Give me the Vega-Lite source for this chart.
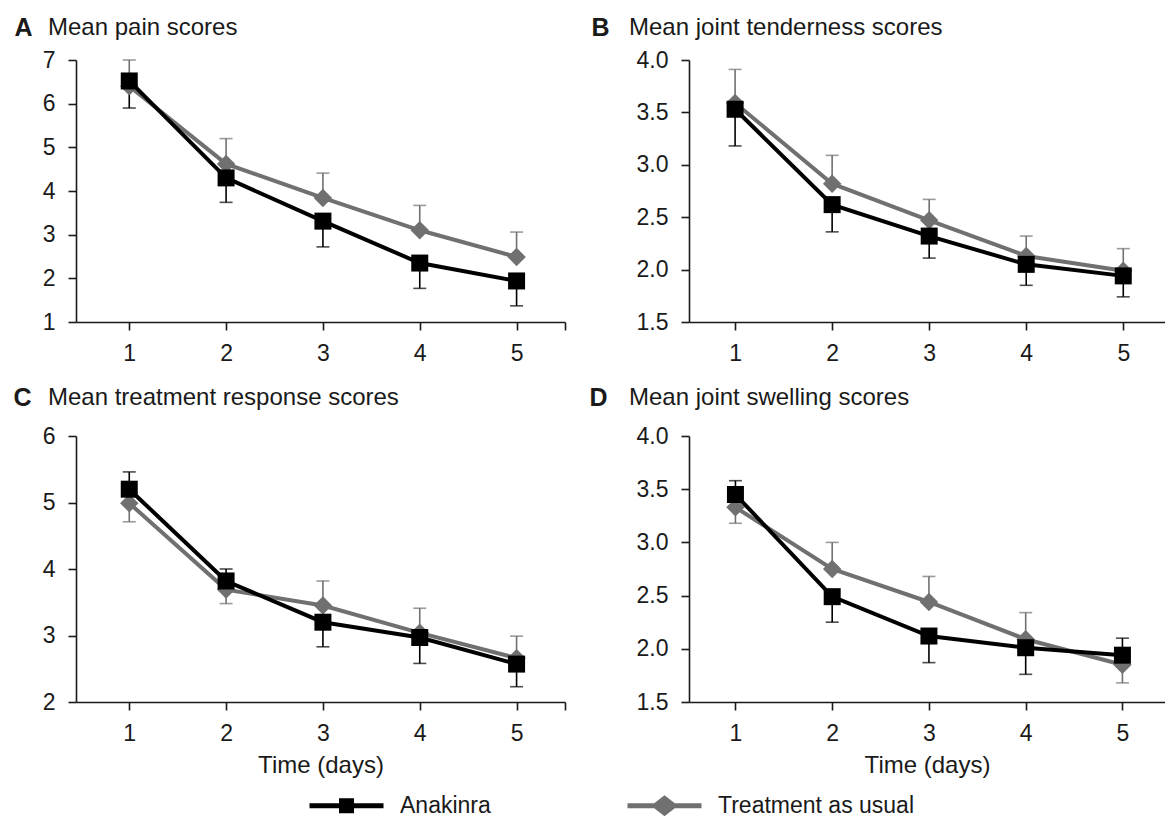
{
  "$schema": "https://vega.github.io/schema/vega-lite/v6.json",
  "autosize": {"type": "pad"},
  "padding": {"left": 12, "top": 15, "right": 0, "bottom": 0},
  "background": "white",
  "config": {
    "font": "Liberation Sans",
    "view": {"stroke": null},
    "axis": {"grid": false, "domainColor": "#1a1a1a", "domainWidth": 1.6, "tickColor": "#1a1a1a", "tickWidth": 1.6, "tickSize": 8, "labelFontSize": 23, "labelColor": "#1a1a1a", "labelFont": "Liberation Sans", "titleFont": "Liberation Sans", "titleColor": "#1a1a1a"},
    "axisY": {"labelPadding": 13},
    "axisX": {"labelPadding": 12},
    "title": {"font": "Liberation Sans", "fontSize": 24, "fontWeight": "normal", "color": "#1a1a1a", "anchor": "start", "frame": "group", "offset": -25}
  },
  "datasets": {
    "scores": [
      {"panel": "A", "series": "Treatment as usual", "day": 1, "mean": 6.40, "err": 7.00},
      {"panel": "A", "series": "Treatment as usual", "day": 2, "mean": 4.62, "err": 5.20},
      {"panel": "A", "series": "Treatment as usual", "day": 3, "mean": 3.84, "err": 4.41},
      {"panel": "A", "series": "Treatment as usual", "day": 4, "mean": 3.10, "err": 3.67},
      {"panel": "A", "series": "Treatment as usual", "day": 5, "mean": 2.49, "err": 3.06},
      {"panel": "B", "series": "Treatment as usual", "day": 1, "mean": 3.59, "err": 3.91},
      {"panel": "B", "series": "Treatment as usual", "day": 2, "mean": 2.82, "err": 3.09},
      {"panel": "B", "series": "Treatment as usual", "day": 3, "mean": 2.47, "err": 2.67},
      {"panel": "B", "series": "Treatment as usual", "day": 4, "mean": 2.13, "err": 2.32},
      {"panel": "B", "series": "Treatment as usual", "day": 5, "mean": 1.99, "err": 2.20},
      {"panel": "C", "series": "Treatment as usual", "day": 1, "mean": 4.99, "err": 4.71},
      {"panel": "C", "series": "Treatment as usual", "day": 2, "mean": 3.69, "err": 3.48},
      {"panel": "C", "series": "Treatment as usual", "day": 3, "mean": 3.45, "err": 3.82},
      {"panel": "C", "series": "Treatment as usual", "day": 4, "mean": 3.04, "err": 3.41},
      {"panel": "C", "series": "Treatment as usual", "day": 5, "mean": 2.66, "err": 2.99},
      {"panel": "D", "series": "Treatment as usual", "day": 1, "mean": 3.33, "err": 3.18},
      {"panel": "D", "series": "Treatment as usual", "day": 2, "mean": 2.75, "err": 3.00},
      {"panel": "D", "series": "Treatment as usual", "day": 3, "mean": 2.44, "err": 2.68},
      {"panel": "D", "series": "Treatment as usual", "day": 4, "mean": 2.09, "err": 2.34},
      {"panel": "D", "series": "Treatment as usual", "day": 5, "mean": 1.85, "err": 1.68},
      {"panel": "A", "series": "Anakinra", "day": 1, "mean": 6.52, "err": 5.90},
      {"panel": "A", "series": "Anakinra", "day": 2, "mean": 4.30, "err": 3.74},
      {"panel": "A", "series": "Anakinra", "day": 3, "mean": 3.31, "err": 2.72},
      {"panel": "A", "series": "Anakinra", "day": 4, "mean": 2.35, "err": 1.77},
      {"panel": "A", "series": "Anakinra", "day": 5, "mean": 1.94, "err": 1.37},
      {"panel": "B", "series": "Anakinra", "day": 1, "mean": 3.53, "err": 3.18},
      {"panel": "B", "series": "Anakinra", "day": 2, "mean": 2.62, "err": 2.36},
      {"panel": "B", "series": "Anakinra", "day": 3, "mean": 2.32, "err": 2.11},
      {"panel": "B", "series": "Anakinra", "day": 4, "mean": 2.05, "err": 1.85},
      {"panel": "B", "series": "Anakinra", "day": 5, "mean": 1.94, "err": 1.74},
      {"panel": "C", "series": "Anakinra", "day": 1, "mean": 5.20, "err": 5.46},
      {"panel": "C", "series": "Anakinra", "day": 2, "mean": 3.82, "err": 4.00},
      {"panel": "C", "series": "Anakinra", "day": 3, "mean": 3.20, "err": 2.83},
      {"panel": "C", "series": "Anakinra", "day": 4, "mean": 2.97, "err": 2.58},
      {"panel": "C", "series": "Anakinra", "day": 5, "mean": 2.57, "err": 2.23},
      {"panel": "D", "series": "Anakinra", "day": 1, "mean": 3.45, "err": 3.58},
      {"panel": "D", "series": "Anakinra", "day": 2, "mean": 2.49, "err": 2.25},
      {"panel": "D", "series": "Anakinra", "day": 3, "mean": 2.12, "err": 1.87},
      {"panel": "D", "series": "Anakinra", "day": 4, "mean": 2.01, "err": 1.76},
      {"panel": "D", "series": "Anakinra", "day": 5, "mean": 1.94, "err": 2.10}
    ]
  },
  "data": {"name": "scores"},
  "spacing": 20,
  "vconcat": [
    {
      "bounds": "flush",
      "spacing": 124,
      "hconcat": [
        {
          "width": 489, "height": 262,
          "title": {"text": "Mean pain scores", "dx": -28},
          "transform": [{"filter": "datum.panel === 'A'"}],
          "encoding": {
            "x": {"field": "day", "type": "quantitative", "scale": {"domain": [0.45, 5.5], "nice": false, "zero": false}, "axis": {"values": [1, 2, 3, 4, 5, 5.5], "labelExpr": "datum.value > 5 ? '' : datum.label", "format": "d", "title": null}}
          },
          "layer": [
            {"mark": {"type": "rule", "strokeWidth": 1.6},
             "encoding": {"y": {"field": "mean", "type": "quantitative", "scale": {"domain": [1, 7], "nice": false, "zero": false}, "axis": {"values": [1, 2, 3, 4, 5, 6, 7], "format": "d", "title": "A", "titleAngle": 0, "titleFontSize": 25, "titleFontWeight": "bold", "titleX": -53, "titleY": -25, "titleAlign": "center", "titleBaseline": "alphabetic"}}, "y2": {"field": "err"},
                          "color": {"field": "series", "type": "nominal", "scale": {"domain": ["Anakinra", "Treatment as usual"], "range": ["#000000", "#707070"]},
                                    "legend": {"orient": "none", "legendX": 259, "legendY": 734, "direction": "horizontal", "title": null,
                                               "labelFontSize": 23, "labelFont": "Liberation Sans", "labelColor": "#1a1a1a", "labelLimit": 500,
                                               "symbolSize": 400, "labelOffset": 42, "columnPadding": 136, "symbolStrokeWidth": 0,
                                               "encoding": {"symbols": {
                                                 "shape": {"condition": {"test": "datum.value === 'Anakinra'", "value": "M-3.7,-0.25H3.7V0.25H-3.7Z M-0.75,-0.75H0.75V0.75H-0.75Z"}, "value": "M-3.7,-0.25H3.7V0.25H-3.7Z M0,-1.05L1.35,0L0,1.05L-1.35,0Z"},
                                                 "fill": {"condition": {"test": "datum.value === 'Anakinra'", "value": "#000000"}, "value": "#707070"},
                                                 "stroke": {"value": "transparent"},
                                                 "opacity": {"value": 1}}}}}}},
            {"mark": {"type": "tick", "orient": "horizontal", "size": 13, "thickness": 1.6},
             "encoding": {"y": {"field": "err", "type": "quantitative"}, "color": {"field": "series", "type": "nominal"}}},
            {"mark": {"type": "line", "strokeWidth": 4},
             "encoding": {"y": {"field": "mean", "type": "quantitative"}, "color": {"field": "series", "type": "nominal"}}},
            {"transform": [{"filter": "datum.series === 'Treatment as usual'"}],
             "mark": {"type": "point", "filled": true, "opacity": 1, "shape": "diamond", "size": 340, "color": "#707070"},
             "encoding": {"y": {"field": "mean", "type": "quantitative"}}},
            {"transform": [{"filter": "datum.series === 'Anakinra'"}],
             "mark": {"type": "point", "filled": true, "opacity": 1, "shape": "square", "size": 289, "color": "#000000"},
             "encoding": {"y": {"field": "mean", "type": "quantitative"}}}
          ]
        },
        {
          "width": 476, "height": 262,
          "title": {"text": "Mean joint tenderness scores", "dx": -60},
          "transform": [{"filter": "datum.panel === 'B'"}],
          "encoding": {
            "x": {"field": "day", "type": "quantitative", "scale": {"domain": [0.525, 5.43], "nice": false, "zero": false}, "axis": {"values": [1, 2, 3, 4, 5], "format": "d", "title": null}}
          },
          "layer": [
            {"mark": {"type": "rule", "strokeWidth": 1.6},
             "encoding": {"y": {"field": "mean", "type": "quantitative", "scale": {"domain": [1.5, 4], "nice": false, "zero": false}, "axis": {"values": [1.5, 2, 2.5, 3, 3.5, 4], "format": ".1f", "title": "B", "titleAngle": 0, "titleFontSize": 25, "titleFontWeight": "bold", "titleX": -89, "titleY": -25, "titleAlign": "center", "titleBaseline": "alphabetic"}}, "y2": {"field": "err"},
                          "color": {"field": "series", "type": "nominal"}}},
            {"mark": {"type": "tick", "orient": "horizontal", "size": 13, "thickness": 1.6},
             "encoding": {"y": {"field": "err", "type": "quantitative"}, "color": {"field": "series", "type": "nominal"}}},
            {"mark": {"type": "line", "strokeWidth": 4},
             "encoding": {"y": {"field": "mean", "type": "quantitative"}, "color": {"field": "series", "type": "nominal"}}},
            {"transform": [{"filter": "datum.series === 'Treatment as usual'"}],
             "mark": {"type": "point", "filled": true, "opacity": 1, "shape": "diamond", "size": 340, "color": "#707070"},
             "encoding": {"y": {"field": "mean", "type": "quantitative"}}},
            {"transform": [{"filter": "datum.series === 'Anakinra'"}],
             "mark": {"type": "point", "filled": true, "opacity": 1, "shape": "square", "size": 289, "color": "#000000"},
             "encoding": {"y": {"field": "mean", "type": "quantitative"}}}
          ]
        }
      ]
    },
    {
      "bounds": "flush",
      "spacing": 124,
      "hconcat": [
        {
          "width": 489, "height": 266,
          "title": {"text": "Mean treatment response scores", "dx": -28},
          "transform": [{"filter": "datum.panel === 'C'"}],
          "encoding": {
            "x": {"field": "day", "type": "quantitative", "scale": {"domain": [0.45, 5.5], "nice": false, "zero": false}, "axis": {"values": [1, 2, 3, 4, 5, 5.5], "labelExpr": "datum.value > 5 ? '' : datum.label", "format": "d", "title": "Time (days)", "titleFontSize": 24, "titleFontWeight": "normal", "titlePadding": 8}}
          },
          "layer": [
            {"mark": {"type": "rule", "strokeWidth": 1.6},
             "encoding": {"y": {"field": "mean", "type": "quantitative", "scale": {"domain": [2, 6], "nice": false, "zero": false}, "axis": {"values": [2, 3, 4, 5, 6], "format": "d", "title": "C", "titleAngle": 0, "titleFontSize": 25, "titleFontWeight": "bold", "titleX": -54, "titleY": -31, "titleAlign": "center", "titleBaseline": "alphabetic"}}, "y2": {"field": "err"},
                          "color": {"field": "series", "type": "nominal"}}},
            {"mark": {"type": "tick", "orient": "horizontal", "size": 13, "thickness": 1.6},
             "encoding": {"y": {"field": "err", "type": "quantitative"}, "color": {"field": "series", "type": "nominal"}}},
            {"mark": {"type": "line", "strokeWidth": 4},
             "encoding": {"y": {"field": "mean", "type": "quantitative"}, "color": {"field": "series", "type": "nominal"}}},
            {"transform": [{"filter": "datum.series === 'Treatment as usual'"}],
             "mark": {"type": "point", "filled": true, "opacity": 1, "shape": "diamond", "size": 340, "color": "#707070"},
             "encoding": {"y": {"field": "mean", "type": "quantitative"}}},
            {"transform": [{"filter": "datum.series === 'Anakinra'"}],
             "mark": {"type": "point", "filled": true, "opacity": 1, "shape": "square", "size": 289, "color": "#000000"},
             "encoding": {"y": {"field": "mean", "type": "quantitative"}}}
          ]
        },
        {
          "width": 476, "height": 266,
          "title": {"text": "Mean joint swelling scores", "dx": -60},
          "transform": [{"filter": "datum.panel === 'D'"}],
          "encoding": {
            "x": {"field": "day", "type": "quantitative", "scale": {"domain": [0.52, 5.44], "nice": false, "zero": false}, "axis": {"values": [1, 2, 3, 4, 5], "format": "d", "title": "Time (days)", "titleFontSize": 24, "titleFontWeight": "normal", "titlePadding": 8}}
          },
          "layer": [
            {"mark": {"type": "rule", "strokeWidth": 1.6},
             "encoding": {"y": {"field": "mean", "type": "quantitative", "scale": {"domain": [1.5, 4], "nice": false, "zero": false}, "axis": {"values": [1.5, 2, 2.5, 3, 3.5, 4], "format": ".1f", "title": "D", "titleAngle": 0, "titleFontSize": 25, "titleFontWeight": "bold", "titleX": -91, "titleY": -31, "titleAlign": "center", "titleBaseline": "alphabetic"}}, "y2": {"field": "err"},
                          "color": {"field": "series", "type": "nominal"}}},
            {"mark": {"type": "tick", "orient": "horizontal", "size": 13, "thickness": 1.6},
             "encoding": {"y": {"field": "err", "type": "quantitative"}, "color": {"field": "series", "type": "nominal"}}},
            {"mark": {"type": "line", "strokeWidth": 4},
             "encoding": {"y": {"field": "mean", "type": "quantitative"}, "color": {"field": "series", "type": "nominal"}}},
            {"transform": [{"filter": "datum.series === 'Treatment as usual'"}],
             "mark": {"type": "point", "filled": true, "opacity": 1, "shape": "diamond", "size": 340, "color": "#707070"},
             "encoding": {"y": {"field": "mean", "type": "quantitative"}}},
            {"transform": [{"filter": "datum.series === 'Anakinra'"}],
             "mark": {"type": "point", "filled": true, "opacity": 1, "shape": "square", "size": 289, "color": "#000000"},
             "encoding": {"y": {"field": "mean", "type": "quantitative"}}}
          ]
        }
      ]
    }
  ]
}
